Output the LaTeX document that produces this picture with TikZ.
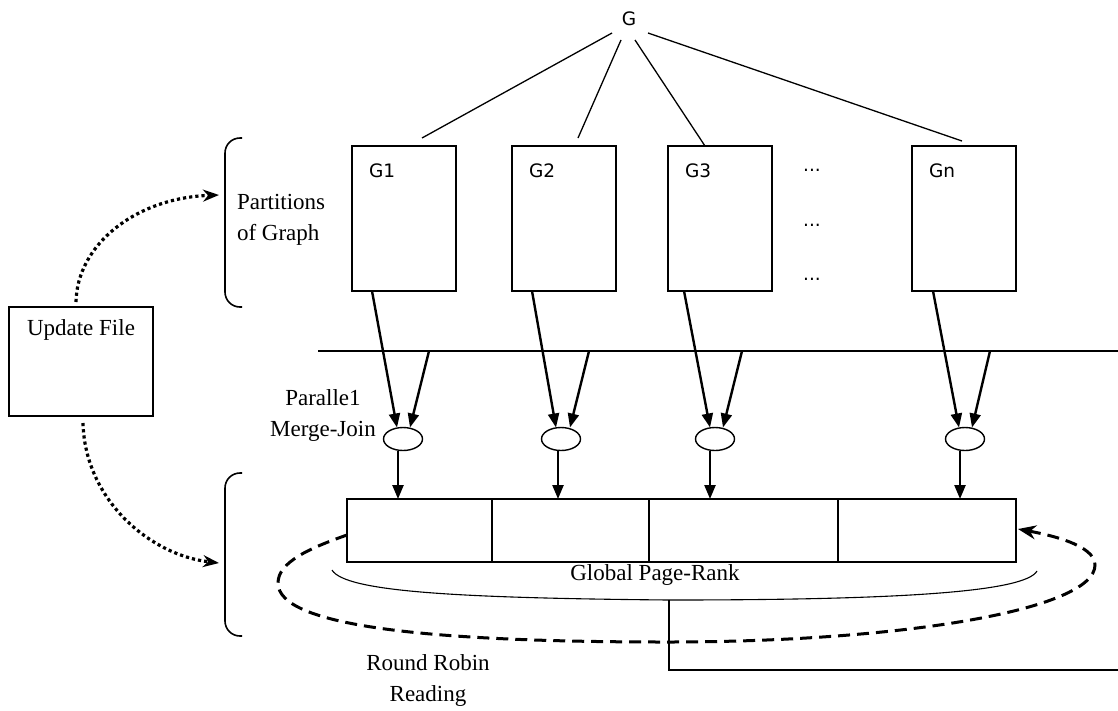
\documentclass[tikz,border=0pt]{standalone}
\usepackage{fontspec}
\setmainfont{Liberation Serif}
\newfontfamily\labelsans{DejaVu Sans}
\usetikzlibrary{arrows.meta,calc,shapes.geometric}

\begin{document}
\begin{tikzpicture}[x=1pt,y=-1pt,
  every node/.style={inner sep=0pt, outer sep=0pt},
  txt/.style={font=\fontsize{23}{31}\selectfont, align=center},
  glab/.style={font=\labelsans\fontsize{18.5}{21}\selectfont},
  part/.style={draw, line width=1.6pt, minimum width=104pt, minimum height=145pt, anchor=north west},
  cell/.style={draw, line width=1.6pt, minimum height=63pt, anchor=north west},
  joinnode/.style={draw, ellipse, line width=1.4pt, minimum width=39pt, minimum height=23pt},
  feed/.style={line width=2.4pt, -{Triangle[length=14pt,width=11pt]}},
  tree/.style={line width=1.3pt},
  upd/.style={line width=3.2pt, dash pattern=on 3.2pt off 3pt, -{Stealth[length=16pt,width=12pt]}},
  roundrobin/.style={line width=3pt, dash pattern=on 12pt off 7pt, -{Stealth[length=18pt,width=14pt]}},
  bracket/.style={line width=1.6pt, rounded corners=15pt}
]
\useasboundingbox (0,0) rectangle (1118,710);

% root graph
\node[glab] (g) at (629,19) {G};

% partitions G1 .. Gn
\node[part] (g1) at (352,146) {};
\node[part] (g2) at (512,146) {};
\node[part] (g3) at (668,146) {};
\node[part] (g4) at (912,146) {};
\node[glab, anchor=west] (l1) at ($(g1.north west)+(17,25)$) {G1};
\node[glab, anchor=west] (l2) at ($(g2.north west)+(17,25)$) {G2};
\node[glab, anchor=west] (l3) at ($(g3.north west)+(17,25)$) {G3};
\node[glab, anchor=west] (l4) at ($(g4.north west)+(17,25)$) {Gn};
\node[glab] (d1) at (812,170) {...};
\node[glab] (d2) at (812,225) {...};
\node[glab] (d3) at (812,279) {...};

% edges from the root
\draw[tree] ($(g)+(-17,14)$) -- ($(g1.north)+(18,-8)$);
\draw[tree] ($(g)+(-8,21)$) -- ($(g2.north)+(14,-8)$);
\draw[tree] ($(g)+(6,21)$) -- ($(g3.north)+(-15,0)$);
\draw[tree] ($(g)+(19,14)$) -- ($(g4.north)+(-2,-5)$);

% left brackets and labels
\draw[bracket] (242,138) -- (225,138) -- (225,307) -- (242,307);
\draw[bracket] (242,473) -- (225,473) -- (225,636) -- (242,636);
\node[txt, align=left, anchor=west] (parts) at (237,220) {Partitions\\of Graph};

% update file
\node[draw, line width=1.6pt, minimum width=144pt, minimum height=109pt, anchor=north west] (upd) at (9,307) {};
\node[txt] (updlabel) at (81,330) {Update File};
\coordinate (pin1) at (219,195);
\coordinate (pin2) at (219,563);
\draw[upd] ($(upd.north)+(-5,-5)$) .. controls (77,245) and (135,198) .. (pin1);
\draw[upd] ($(upd.south)+(2,7)$) .. controls (85,500) and (150,555) .. (pin2);

% separator line
\coordinate (hl) at (318,351);
\coordinate (hr) at (1118,351);
\draw[line width=1.4pt] (hl) -- (hr);

% merge-join nodes
\node[joinnode] (e1) at (403,439) {};
\node[joinnode] (e2) at (561,439) {};
\node[joinnode] (e3) at (715,439) {};
\node[joinnode] (e4) at (965,439) {};
\node[txt] (pmj) at (323,415) {Paralle1\\Merge-Join};

% global page-rank array
\node[cell, minimum width=145pt] (c1) at (347,499) {};
\node[cell, minimum width=157pt] (c2) at (492,499) {};
\node[cell, minimum width=189pt] (c3) at (649,499) {};
\node[cell, minimum width=178pt] (c4) at (838,499) {};
\node[txt] (gpr) at (655,575) {Global Page-Rank};

% partition to merge-join feeds
\draw[feed] ($(g1.south west)+(20,0)$) -- ($(e1.north)+(-6,0)$);
\draw[feed] ($(g2.south west)+(20,0)$) -- ($(e2.north)+(-5,0)$);
\draw[feed] ($(g3.south west)+(16,0)$) -- ($(e3.north)+(-5,0)$);
\draw[feed] ($(g4.south west)+(21,0)$) -- ($(e4.north)+(-6,0)$);
\draw[feed] (hl -| 429,0) -- ($(e1.north)+(7,0)$);
\draw[feed] (hl -| 589,0) -- ($(e2.north)+(9,0)$);
\draw[feed] (hl -| 742,0) -- ($(e3.north)+(8,0)$);
\draw[feed] (hl -| 990,0) -- ($(e4.north)+(7,0)$);

% merge-join to array
\coordinate (v1) at ($(e1.south)+(-5,0)$);
\coordinate (v2) at ($(e2.south)+(-3,0)$);
\coordinate (v3) at ($(e3.south)+(-5,0)$);
\coordinate (v4) at ($(e4.south)+(-5,0)$);
\draw[feed] (v1) -- (v1 |- c1.north);
\draw[feed] (v2) -- (v2 |- c2.north);
\draw[feed] (v3) -- (v3 |- c3.north);
\draw[feed] (v4) -- (v4 |- c4.north);

% grouping curve under the array and its outlet
\coordinate (bend) at (669,600);
\coordinate (exit) at (1118,670);
\draw[line width=1.1pt] (332,570) .. controls (345,592) and (460,598) .. (bend)
  .. controls (900,600) and (1025,592) .. (1037,571);
\draw[line width=1.3pt] (bend) -- (bend |- exit) -- (exit);

% round robin reading loop
\draw[roundrobin] ($(c1.west)+(0,4.5)$) .. controls (310,548) and (278,562) .. (278,583)
  .. controls (278,625) and (420,642) .. (667,642)
  .. controls (900,642) and (1095,610) .. (1095,565)
  .. controls (1095,545) and (1050,535) .. ($(c4.east)+(2,-1.5)$);
\node[txt] (rrr) at (428,680) {Round Robin\\Reading};

\end{tikzpicture}
\end{document}
